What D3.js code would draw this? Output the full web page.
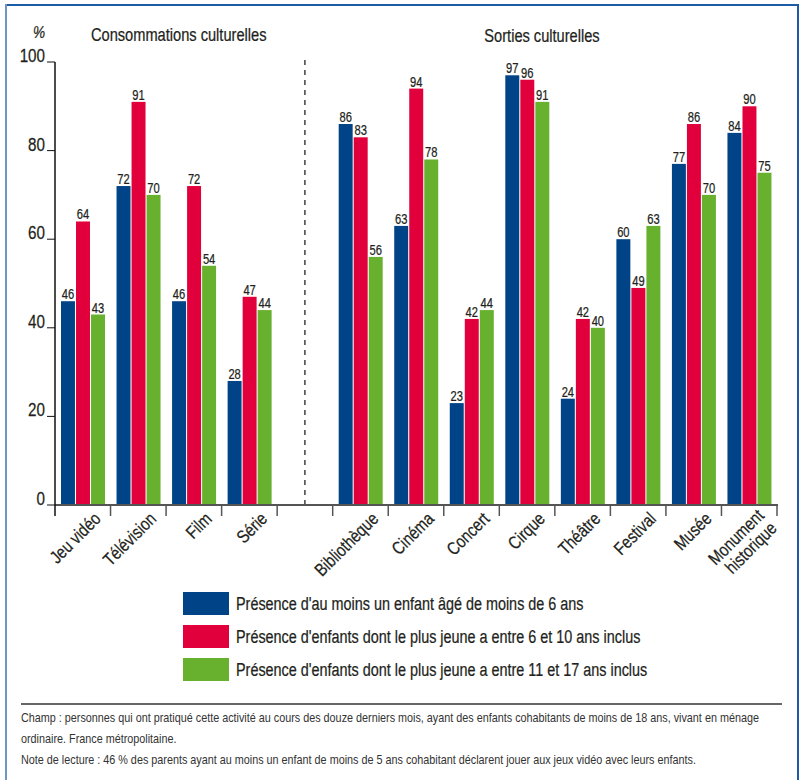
<!DOCTYPE html>
<html>
<head>
<meta charset="utf-8">
<script src="https://cdn.jsdelivr.net/npm/d3@7"></script>
<style>
  html, body { margin: 0; padding: 0; background: #fff; }
  svg { display: block; font-family: "Liberation Sans", Arial, sans-serif; }
  .ink { fill: #231f20; stroke: #231f20; stroke-width: 0.25px; }
</style>
</head>
<body>
<svg id="chart" width="801" height="780"></svg>
<script>
// Activities, in display order; "" marks the empty slot between the two groups
const consommations = ["Jeu vidéo", "Télévision", "Film", "Série"];
const sorties = ["Bibliothèque", "Cinéma", "Concert", "Cirque", "Théâtre", "Festival", "Musée", "Monument historique"];
const slots = [...consommations, "", ...sorties];

const series = [
  "Présence d'au moins un enfant âgé de moins de 6 ans",
  "Présence d'enfants dont le plus jeune a entre 6 et 10 ans inclus",
  "Présence d'enfants dont le plus jeune a entre 11 et 17 ans inclus"
];
const colors = ["#004387", "#e2003c", "#67b12f"];

// Share (%) of parents doing the activity with their children, per age group
const moins6 = [46, 72, 46, 28, 86, 63, 23, 97, 24, 60, 77, 84];
const de6a10 = [64, 91, 72, 47, 83, 94, 42, 96, 42, 49, 86, 90];
const de11a17 = [43, 70, 54, 44, 56, 78, 44, 91, 40, 63, 70, 75];
const activities = [...consommations, ...sorties];

const yTicks = [0, 20, 40, 60, 80, 100];

const notes = [
  "Champ : personnes qui ont pratiqué cette activité au cours des douze derniers mois, ayant des enfants cohabitants de moins de 18 ans, vivant en ménage",
  "ordinaire. France métropolitaine.",
  "Note de lecture : 46 % des parents ayant au moins un enfant de moins de 5 ans cohabitant déclarent jouer aux jeux vidéo avec leurs enfants."
];

const narrow = 0.77; // horizontal squeeze giving a condensed face

const svg = d3.select("#chart");

// Frame
svg.append("line").attr("x1", 5).attr("x2", 798).attr("y1", 5).attr("y2", 5)
  .attr("stroke", "#1d5ba6").attr("stroke-width", 2);
svg.append("line").attr("x1", 798).attr("x2", 798).attr("y1", 4).attr("y2", 780)
  .attr("stroke", "#1d5ba6").attr("stroke-width", 2);
svg.append("line").attr("x1", 6).attr("x2", 6).attr("y1", 4).attr("y2", 780)
  .attr("stroke", "#6f95c8").attr("stroke-width", 2);

const plotLeft = 55, plotRight = 777, plotTop = 62, plotBottom = 505;

const x0 = d3.scaleBand().domain(slots).range([plotLeft, plotRight]).padding(0);
const x1 = d3.scaleBand().domain(d3.range(3)).range([6, 50]).paddingInner(0.07);
const y = d3.scaleLinear().domain([0, 100]).range([plotBottom, plotTop]);

const rows = activities.map((name, i) => ({ name, values: [moins6[i], de6a10[i], de11a17[i]] }));

// Bars and value labels
const groups = svg.append("g").selectAll("g").data(rows).join("g")
  .attr("transform", d => `translate(${x0(d.name)},0)`);

groups.selectAll("rect").data(d => d.values).join("rect")
  .attr("x", (v, i) => x1(i))
  .attr("width", x1.bandwidth())
  .attr("y", v => y(v))
  .attr("height", v => y(0) - y(v))
  .attr("fill", (v, i) => colors[i]);

groups.selectAll("text").data(d => d.values).join("text")
  .attr("class", "ink")
  .attr("transform", (v, i) => `translate(${x1(i) + x1.bandwidth() / 2},${y(v) - 2}) scale(${narrow},1)`)
  .attr("text-anchor", "middle")
  .attr("font-size", 14.5)
  .text(v => v);

// Separator between the two groups
svg.append("line")
  .attr("x1", x0("") + x0.bandwidth() / 2).attr("x2", x0("") + x0.bandwidth() / 2)
  .attr("y1", 60).attr("y2", plotBottom)
  .attr("stroke", "#111").attr("stroke-width", 1.2).attr("stroke-dasharray", "5,5");

// X axis line and category ticks
svg.append("line").attr("x1", plotLeft).attr("x2", plotRight + 1).attr("y1", plotBottom).attr("y2", plotBottom)
  .attr("stroke", "#555").attr("stroke-width", 2);
const bounds = slots.map(s => x0(s)).concat([plotRight]);
svg.append("g").selectAll("line").data(bounds).join("line")
  .attr("x1", d => d).attr("x2", d => d)
  .attr("y1", plotBottom).attr("y2", plotBottom + 11)
  .attr("stroke", (d, i) => i === 0 ? "#111" : "#555").attr("stroke-width", 1.5);

// Rotated category labels
const xl = svg.append("g").selectAll("text").data(activities).join("text")
  .attr("class", "ink")
  .attr("transform", d => `translate(${x0(d) + x0.bandwidth() / 2 + 19},${plotBottom + 15}) rotate(-45) scale(0.82,1)`)
  .attr("text-anchor", "end")
  .attr("font-size", 18);
xl.each(function (d) {
  const parts = d === "Monument historique" ? ["Monument", "historique"] : [d];
  const t = d3.select(this);
  parts.forEach((p, i) => {
    t.append("tspan").attr("x", 0)
      .attr("dy", i === 0 ? (parts.length > 1 ? "-0.25em" : 0) : "1.0em").text(p);
  });
});

// Y axis
svg.append("line").attr("x1", plotLeft).attr("x2", plotLeft).attr("y1", plotTop).attr("y2", plotBottom)
  .attr("stroke", "#111").attr("stroke-width", 1.5);
const yt = svg.append("g").selectAll("g").data(yTicks).join("g")
  .attr("transform", d => `translate(0,${y(d)})`);
yt.append("line").attr("x1", plotLeft - 8).attr("x2", plotLeft).attr("stroke", "#111").attr("stroke-width", 1);
yt.append("text").attr("class", "ink").attr("transform", `translate(${plotLeft - 10},0) scale(0.8,1)`)
  .attr("text-anchor", "end").attr("font-size", 19).text(d => d);

svg.append("text").attr("class", "ink").attr("transform", "translate(39,38) scale(0.85,1)").attr("text-anchor", "middle")
  .attr("font-size", 16).attr("font-style", "italic").text("%");

// Group titles
svg.append("text").attr("class", "ink").attr("transform", `translate(91,41) scale(${narrow},1)`).attr("font-size", 19)
  .text("Consommations culturelles");
svg.append("text").attr("class", "ink").attr("transform", `translate(542,42) scale(${narrow},1)`).attr("text-anchor", "middle")
  .attr("font-size", 19).text("Sorties culturelles");

// Legend
const lg = svg.append("g").selectAll("g").data(series).join("g")
  .attr("transform", (d, i) => `translate(183,${592 + i * 33})`);
lg.append("rect").attr("width", 46).attr("height", 23).attr("fill", (d, i) => colors[i]);
lg.append("text").attr("class", "ink").attr("transform", `translate(53,18) scale(0.758,1)`)
  .attr("font-size", 19).text(d => d);

// Footnotes, squeezed so the first line spans the rule below the legend
svg.append("line").attr("x1", 21).attr("x2", 782).attr("y1", 704).attr("y2", 704)
  .attr("stroke", "#666").attr("stroke-width", 2);
const nt = svg.append("g").selectAll("text").data(notes).join("text")
  .attr("font-size", 12.5).attr("fill", "#333").text(d => d);
const noteScale = 739 / nt.node().getComputedTextLength();
nt.attr("transform", (d, i) => `translate(21,${722 + i * 21}) scale(${noteScale},1)`);
</script>
</body>
</html>
